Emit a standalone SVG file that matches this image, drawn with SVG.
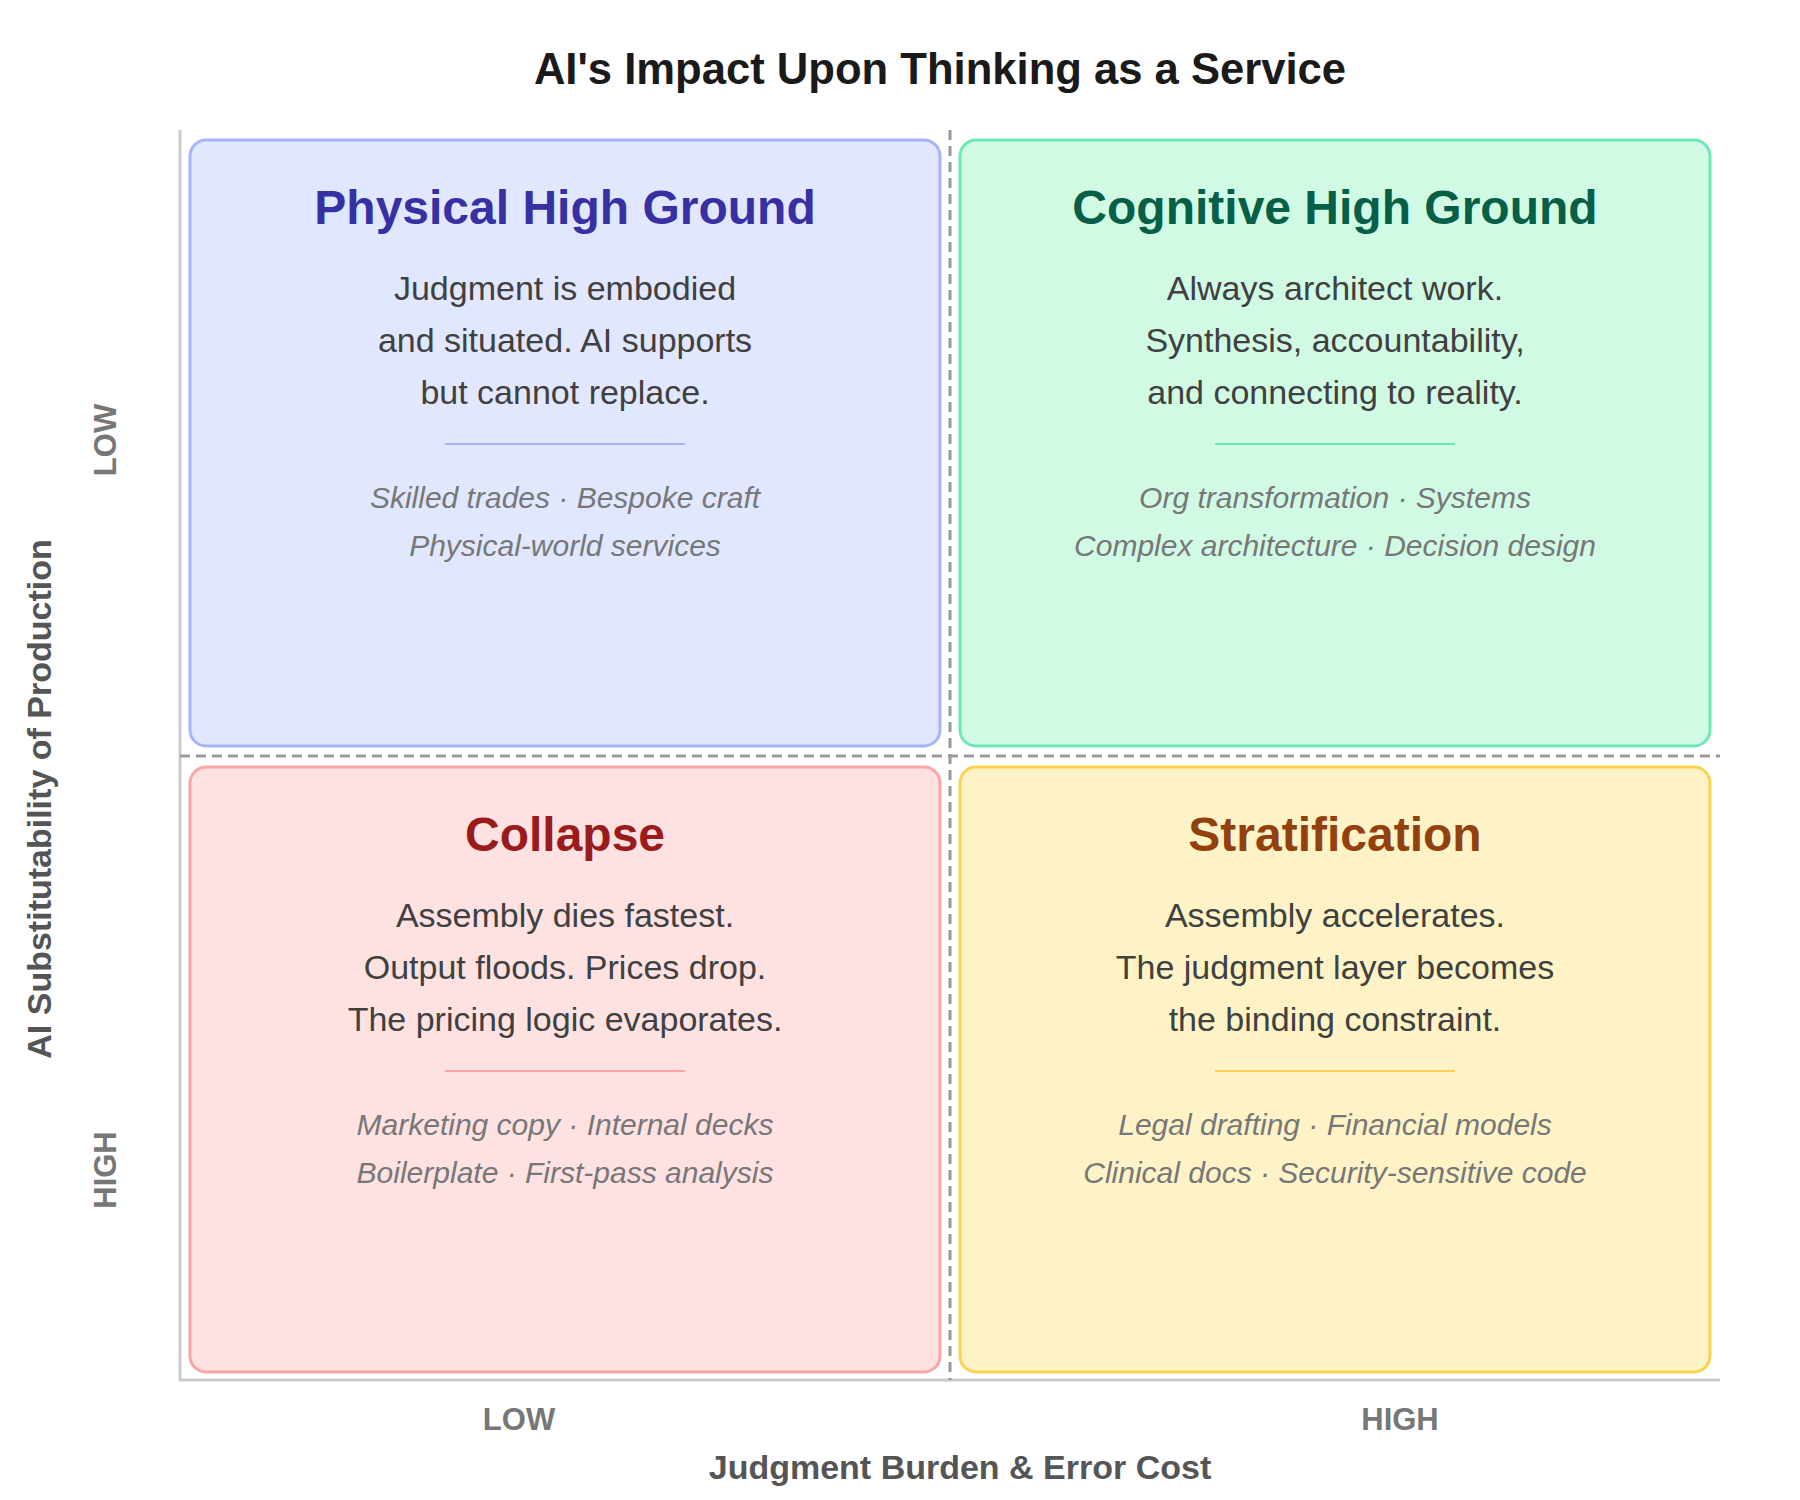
<svg xmlns="http://www.w3.org/2000/svg" width="1800" height="1500" viewBox="0 0 1800 1500">
  <style>
    text { font-family: "Liberation Sans", Arial, sans-serif; text-anchor: middle; }
    .title { font-size: 43.6px; font-weight: bold; fill: #1a1a1a; }
    .qtitle { font-size: 48px; font-weight: bold; }
    .body { font-size: 34px; fill: #404040; }
    .ex { font-size: 30px; font-style: italic; fill: #777777; }
    .tick { font-size: 31px; font-weight: bold; fill: #777777; }
    .axtitle { font-size: 34px; font-weight: bold; fill: #555555; }
    .axis { stroke: #cccccc; stroke-width: 3; fill: none; }
    .divider { stroke: #999999; stroke-width: 3; stroke-dasharray: 10 6; fill: none; }
    .box { stroke-width: 3; }
    .sep { stroke-width: 2; }
  </style>

  <text class="title" x="940" y="84">AI's Impact Upon Thinking as a Service</text>

  <g id="axes">
    <line class="axis" x1="180" y1="130" x2="180" y2="1380"/>
    <line class="axis" x1="178.5" y1="1380" x2="1720" y2="1380"/>
    <text class="tick" x="519" y="1430">LOW</text>
    <text class="tick" x="1400" y="1430">HIGH</text>
    <text class="axtitle" x="960" y="1479">Judgment Burden &amp; Error Cost</text>
    <text class="tick" transform="translate(116,440) rotate(-90)">LOW</text>
    <text class="tick" transform="translate(116,1170) rotate(-90)">HIGH</text>
    <text class="axtitle" transform="translate(51,799) rotate(-90)">AI Substitutability of Production</text>
  </g>

  <g id="connectors">
    <line class="divider" x1="950" y1="130" x2="950" y2="1380"/>
    <line class="divider" x1="180" y1="756" x2="1720" y2="756"/>
  </g>

  <g id="physical-high-ground">
    <rect class="box" x="190" y="140" width="750" height="606" rx="16" fill="#e0e7ff" stroke="#a5b4fc"/>
    <text class="qtitle" x="565" y="224" fill="#3730a3">Physical High Ground</text>
    <text class="body" x="565" y="300">Judgment is embodied</text>
    <text class="body" x="565" y="352">and situated. AI supports</text>
    <text class="body" x="565" y="404">but cannot replace.</text>
    <line class="sep" x1="445" y1="444" x2="685" y2="444" stroke="#a5b4fc"/>
    <text class="ex" x="565" y="508">Skilled trades · Bespoke craft</text>
    <text class="ex" x="565" y="556">Physical-world services</text>
  </g>

  <g id="cognitive-high-ground">
    <rect class="box" x="960" y="140" width="750" height="606" rx="16" fill="#d1fae5" stroke="#6ee7b7"/>
    <text class="qtitle" x="1335" y="224" fill="#065f46">Cognitive High Ground</text>
    <text class="body" x="1335" y="300">Always architect work.</text>
    <text class="body" x="1335" y="352">Synthesis, accountability,</text>
    <text class="body" x="1335" y="404">and connecting to reality.</text>
    <line class="sep" x1="1215" y1="444" x2="1455" y2="444" stroke="#6ee7b7"/>
    <text class="ex" x="1335" y="508">Org transformation · Systems</text>
    <text class="ex" x="1335" y="556">Complex architecture · Decision design</text>
  </g>

  <g id="collapse">
    <rect class="box" x="190" y="767" width="750" height="605" rx="16" fill="#fee2e2" stroke="#fca5a5"/>
    <text class="qtitle" x="565" y="851" fill="#991b1b">Collapse</text>
    <text class="body" x="565" y="927">Assembly dies fastest.</text>
    <text class="body" x="565" y="979">Output floods. Prices drop.</text>
    <text class="body" x="565" y="1031">The pricing logic evaporates.</text>
    <line class="sep" x1="445" y1="1071" x2="685" y2="1071" stroke="#fca5a5"/>
    <text class="ex" x="565" y="1135">Marketing copy · Internal decks</text>
    <text class="ex" x="565" y="1183">Boilerplate · First-pass analysis</text>
  </g>

  <g id="stratification">
    <rect class="box" x="960" y="767" width="750" height="605" rx="16" fill="#fef3c7" stroke="#fcd34d"/>
    <text class="qtitle" x="1335" y="851" fill="#92400e">Stratification</text>
    <text class="body" x="1335" y="927">Assembly accelerates.</text>
    <text class="body" x="1335" y="979">The judgment layer becomes</text>
    <text class="body" x="1335" y="1031">the binding constraint.</text>
    <line class="sep" x1="1215" y1="1071" x2="1455" y2="1071" stroke="#fcd34d"/>
    <text class="ex" x="1335" y="1135">Legal drafting · Financial models</text>
    <text class="ex" x="1335" y="1183">Clinical docs · Security-sensitive code</text>
  </g>
</svg>
